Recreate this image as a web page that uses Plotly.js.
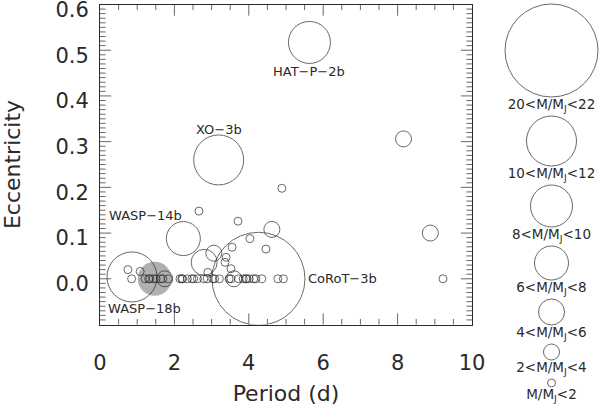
<!DOCTYPE html>
<html>
<head>
<meta charset="utf-8">
<script src="https://cdn.plot.ly/plotly-3.0.1.min.js"></script>
<style>
  html, body { margin: 0; padding: 0; background: #fff; }
  #chart { width: 600px; height: 409px; }
</style>
</head>
<body>
<div id="chart"></div>
<script>
// Transiting planets: orbital period (d), eccentricity, mass (M_J)
const period = [
  5.63, 3.19, 2.24, 0.86, 4.26, 2.80, 3.06, 8.16, 8.88, 4.62, 1.74, 3.60,
  4.89, 2.66, 3.71, 4.03, 4.46, 3.55, 3.39, 3.36, 3.52, 2.90, 0.75, 1.08, 0.85, 9.22,
  1.21, 1.31, 1.34, 1.43, 1.51, 1.63, 1.69, 1.83, 2.15, 2.20, 2.22, 2.35, 2.47, 2.52,
  2.62, 2.79, 2.88, 3.03, 3.08, 3.21, 3.47, 3.52, 3.72, 3.85, 3.92, 3.94, 4.01, 4.13,
  4.19, 4.35, 4.78, 4.93
];
const ecc = [
  0.517, 0.260, 0.088, 0.004, 0.000, 0.036, 0.056, 0.306, 0.100, 0.108, 0.000, 0.000,
  0.198, 0.148, 0.126, 0.088, 0.065, 0.069, 0.047, 0.036, 0.022, 0.014, 0.020, 0.016, 0.000, 0.000,
  0, 0, 0, 0, 0, 0, 0, 0, 0, 0, 0, 0, 0, 0,
  0, 0, 0, 0, 0, 0, 0, 0, 0, 0, 0, 0, 0, 0,
  0, 0, 0, 0
];
const mass = [
  9.0, 11.8, 7.3, 10.3, 21.7, 4.2, 3.1, 2.2, 3.0, 2.2, 3.3, 2.5,
  0.1, 0.1, 1.0, 1.0, 1.0, 1.0, 1.0, 1.0, 0.7, 0.9, 1.1, 1.4, 0.02, 0.7,
  1.3, 1.9, 1.2, 1.3, 1.0, 1.6, 1.1, 1.7, 0.9, 1.8, 1.1, 0.8, 1.2, 0.9,
  0.6, 1.1, 0.4, 0.8, 1.5, 0.2, 0.5, 0.7, 0.5, 1.1, 0.8, 0.9, 0.5, 1.3,
  1.2, 0.5, 1.0, 0.9
];

// highlighted planet (grey disc)
const hlPeriod = [1.47];
const hlEcc = [0.0];
const hlMass = [7.0];

// named planets
const labelNames = ['HAT−P−2b', 'XO−3b', 'WASP−14b', 'WASP−18b', 'CoRoT−3b'];
const labelPeriod = [5.63, 3.19, 2.24, 0.86, 4.26];
const labelEcc = [0.517, 0.26, 0.088, 0.004, 0.0];

// mass bins for the symbol key
const binUpper = [2, 4, 6, 8, 10, 12, 22];
const binLabels = [
  'M/M<sub>J</sub>&lt;2', '2&lt;M/M<sub>J</sub>&lt;4', '4&lt;M/M<sub>J</sub>&lt;6',
  '6&lt;M/M<sub>J</sub>&lt;8', '8&lt;M/M<sub>J</sub>&lt;10', '10&lt;M/M<sub>J</sub>&lt;12',
  '20&lt;M/M<sub>J</sub>&lt;22'
];

// axis ticks
const xTicks = [0, 2, 4, 6, 8, 10];
const xTickText = ['0', '2', '4', '6', '8', '10'];
const yTicks = [0, 0.1, 0.2, 0.3, 0.4, 0.5, 0.6];
const yTickText = ['0.0', '0.1', '0.2', '0.3', '0.4', '0.5', '0.6'];

// ---- styling ----
const INK = '#2a2a2a';
const FONT = 'DejaVu Sans';
const BIN_DIAM = [8, 16, 26, 34, 42, 50, 93];
const LABEL_OFFSETS = [ // [xshift, yshift, xanchor]
  [0, -29, 'center'], [0, 30, 'center'], [1, 23, 'right'], [13, -32, 'center'], [48, 0, 'left']
];
const X_RANGE = [0, 10], Y_RANGE = [-0.1, 0.6];
const X_DOMAIN = [100 / 600, 472 / 600], Y_DOMAIN = [1 - 324.5 / 409, 1 - 4.5 / 409];
const X_MINOR = 0.5, Y_MINOR = 0.01;
const MAJOR_LEN = 8, MINOR_LEN = 4;

function sizeForMass(m) {
  for (let i = 0; i < binUpper.length; i++) if (m < binUpper[i]) return BIN_DIAM[i];
  return BIN_DIAM[BIN_DIAM.length - 1];
}

// key layout: stacked from the top, largest first
const keyX = [], keyY = [], keyLabY = [], keySize = [], keyText = [];
let keyTop = 4;
for (let i = binLabels.length - 1; i >= 0; i--) {
  const r = BIN_DIAM[i] / 2;
  keyX.push(551.5);
  keyY.push(keyTop + r);
  keySize.push(BIN_DIAM[i]);
  keyText.push(binLabels[i]);
  const lab = keyTop + 2 * r + 9;
  keyLabY.push(lab);
  keyTop = lab + 10;
}

// inward ticks on all four sides (IDL style): line markers centred on the frame,
// the outer half is clipped away by the plot area
const txX = [], txY = [], txS = [];
const nx = Math.round((X_RANGE[1] - X_RANGE[0]) / X_MINOR);
for (let k = 1; k < nx; k++) {
  const v = +(X_RANGE[0] + k * X_MINOR).toFixed(4);
  const s = 2 * (xTicks.includes(v) ? MAJOR_LEN : MINOR_LEN);
  txX.push(v, v); txY.push(Y_RANGE[0], Y_RANGE[1]); txS.push(s, s);
}
const tyX = [], tyY = [], tyS = [];
const ny = Math.round((Y_RANGE[1] - Y_RANGE[0]) / Y_MINOR);
for (let k = 1; k < ny; k++) {
  const v = +(Y_RANGE[0] + k * Y_MINOR).toFixed(4);
  const major = Math.abs(Math.round(v * 10) - v * 10) < 1e-6;
  const s = 2 * (major ? MAJOR_LEN : MINOR_LEN);
  tyX.push(X_RANGE[0], X_RANGE[1]); tyY.push(v, v); tyS.push(s, s);
}

const traces = [
  {
    x: hlPeriod, y: hlEcc, type: 'scatter', mode: 'markers',
    marker: { size: hlMass.map(sizeForMass), color: '#8f8f8f', line: { width: 0 } },
    hoverinfo: 'skip',
  },
  {
    x: period, y: ecc, type: 'scatter', mode: 'markers',
    marker: { size: mass.map(sizeForMass), color: 'rgba(0,0,0,0)', line: { color: INK, width: 1 } },
  },
  {
    x: txX, y: txY, type: 'scatter', mode: 'markers', hoverinfo: 'skip',
    marker: { symbol: 'line-ns', size: txS, color: INK, line: { color: INK, width: 1 } },
  },
  {
    x: tyX, y: tyY, type: 'scatter', mode: 'markers', hoverinfo: 'skip',
    marker: { symbol: 'line-ew', size: tyS, color: INK, line: { color: INK, width: 1 } },
  },
  {
    x: keyX, y: keyY, xaxis: 'x2', yaxis: 'y2', type: 'scatter', mode: 'markers',
    marker: { size: keySize, color: 'rgba(0,0,0,0)', line: { color: INK, width: 1 } },
    cliponaxis: false,
  },
  {
    x: keyX, y: keyLabY, xaxis: 'x2', yaxis: 'y2', type: 'scatter', mode: 'text',
    text: keyText, textposition: 'middle center',
    textfont: { family: FONT, size: 13.5, color: INK },
    cliponaxis: false,
  },
];

const annotations = labelNames.map((name, i) => ({
  x: labelPeriod[i], y: labelEcc[i], xref: 'x', yref: 'y',
  text: name, showarrow: false,
  xshift: LABEL_OFFSETS[i][0], yshift: LABEL_OFFSETS[i][1],
  xanchor: LABEL_OFFSETS[i][2], yanchor: 'middle',
  font: { family: FONT, size: 13, color: INK },
}));

const layout = {
  width: 600, height: 409,
  margin: { l: 0, r: 0, t: 0, b: 0 },
  paper_bgcolor: '#fff', plot_bgcolor: 'rgba(0,0,0,0)',
  showlegend: false,
  font: { family: FONT, color: INK },
  xaxis: {
    domain: X_DOMAIN, range: X_RANGE,
    tickmode: 'array', tickvals: xTicks, ticktext: xTickText, ticks: '',
    showline: true, linecolor: INK, mirror: true, showgrid: false, zeroline: false,
    tickfont: { family: FONT, size: 21, color: INK },
    ticklabeloverflow: 'allow',
    ticklabelstandoff: 19,
    title: { text: 'Period (d)', font: { family: FONT, size: 22, color: INK }, standoff: 11 },
  },
  yaxis: {
    domain: Y_DOMAIN, range: Y_RANGE,
    tickmode: 'array', tickvals: yTicks, ticktext: yTickText, ticks: '',
    showline: true, linecolor: INK, mirror: true, showgrid: false, zeroline: false,
    tickfont: { family: FONT, size: 21, color: INK },
    ticklabeloverflow: 'allow',
    ticklabelstandoff: 6,
    ticklabelshift: 5,
    title: { text: 'Eccentricity', font: { family: FONT, size: 22, color: INK }, standoff: 32 },
  },
  xaxis2: { domain: [472 / 600, 1], range: [472, 600], anchor: 'y2', visible: false, fixedrange: true },
  yaxis2: { domain: [0, 1], range: [409, 0], anchor: 'x2', visible: false, fixedrange: true },
  annotations,
};

Plotly.newPlot('chart', traces, layout, { displayModeBar: false, staticPlot: true });
</script>
</body>
</html>
